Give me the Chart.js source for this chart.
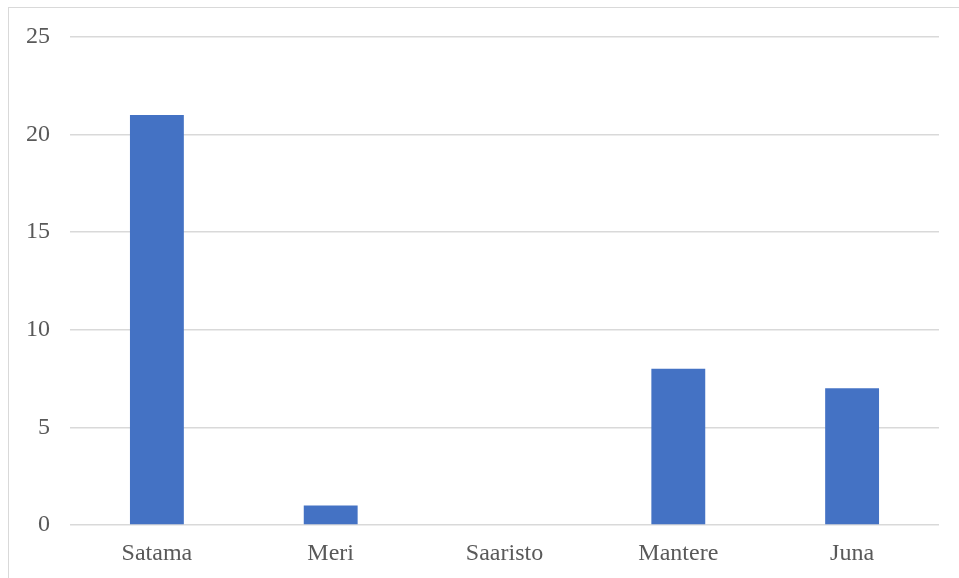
<!DOCTYPE html>
<html>
<head>
<meta charset="utf-8">
<script src="https://cdn.jsdelivr.net/npm/chart.js@4/dist/chart.umd.min.js"></script>
<style>
  html, body { margin: 0; padding: 0; background: #fff; }
  #wrap { position: relative; width: 959px; height: 578px; overflow: hidden; }
  #frame { position: absolute; left: 8px; top: 7px; width: 1000px; height: 700px;
           border: 1px solid #d9d9d9; box-sizing: border-box; }
  canvas { position: absolute; left: 0; top: 0; }
</style>
</head>
<body>
<div id="wrap">
  <div id="frame"></div>
  <canvas id="chart" width="959" height="578"></canvas>
</div>
<script>
const categories = ["Satama", "Meri", "Saaristo", "Mantere", "Juna"];
const values     = [21, 1, 0, 8, 7];
const yTicks     = [0, 5, 10, 15, 20, 25];

const font = { family: "'Liberation Serif', 'Times New Roman', serif", size: 24 };

new Chart(document.getElementById("chart"), {
  type: "bar",
  data: {
    labels: categories,
    datasets: [{
      data: values,
      backgroundColor: "#4472c4",
      borderWidth: 0,
      categoryPercentage: 1,
      barPercentage: 0.31
    }]
  },
  options: {
    responsive: false,
    animation: false,
    layout: { padding: { top: 37, right: 20, left: 0, bottom: 0 } },
    plugins: { legend: { display: false }, tooltip: { enabled: false } },
    scales: {
      x: {
        grid:   { display: false, drawTicks: false },
        border: { display: false },
        ticks:  { color: "#595959", font, padding: 14 },
        afterFit: a => { a.height = 53; }
      },
      y: {
        min: 0,
        max: yTicks[yTicks.length - 1],
        afterBuildTicks: a => { a.ticks = yTicks.map(v => ({ value: v })); },
        grid:   { color: "#d9d9d9", lineWidth: 1.5, drawTicks: false },
        border: { display: false },
        ticks:  { color: "#595959", font, padding: 20 },
        afterFit: a => { a.width = 70; }
      }
    }
  }
});
</script>
</body>
</html>
